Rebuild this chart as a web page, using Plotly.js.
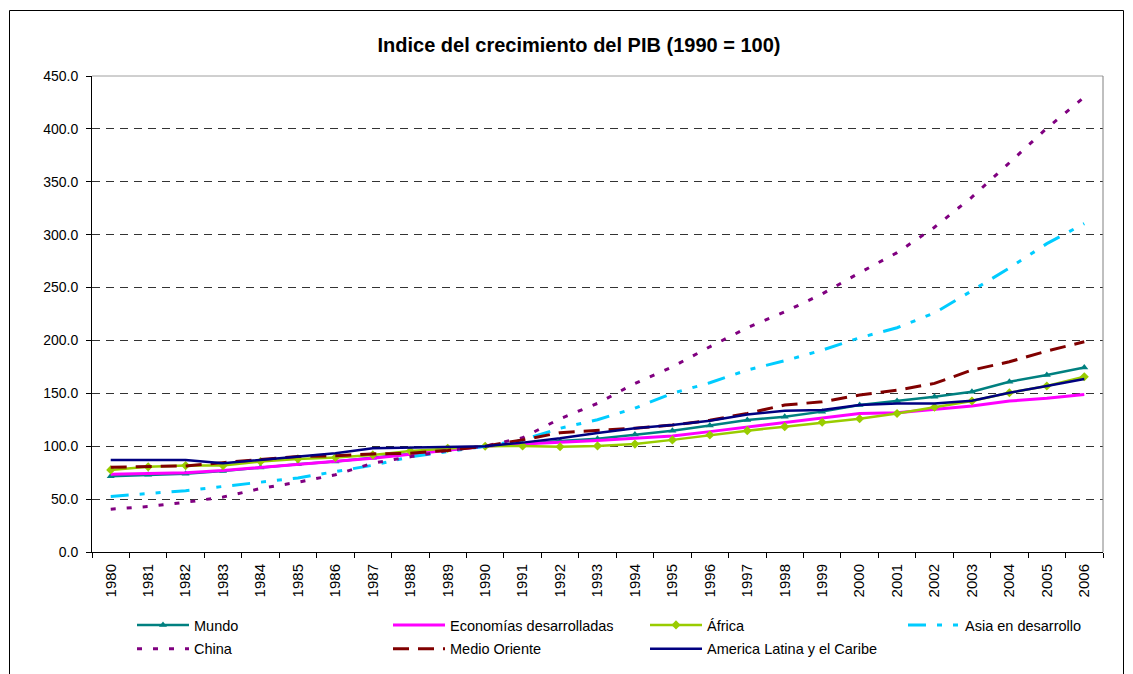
<!DOCTYPE html>
<html>
<head>
<meta charset="utf-8">
<script src="https://cdn.plot.ly/plotly-3.0.1.min.js"></script>
<style>
html,body{margin:0;padding:0;background:#fff;}
#chart{width:1133px;height:674px;}
</style>
</head>
<body>
<div id="chart"></div>
<script>
const years = ["1980","1981","1982","1983","1984","1985","1986","1987","1988","1989","1990","1991","1992","1993","1994","1995","1996","1997","1998","1999","2000","2001","2002","2003","2004","2005","2006"];

const mundo = [71.5,73,74,76.5,80,83,85.5,89,93,96.5,100,102,105,107,111,114.7,119.5,124.8,127.9,132.7,139,142.7,146.8,151.5,161,167.3,174.5];
const economiasDesarrolladas = [73.5,74.5,75,77,80,82.4,85.5,88.7,92.4,96.5,100,102,103.4,105.3,107.5,109.7,113.8,118,122.3,126.4,131,131.7,134.9,138,142.7,145.3,149];
const africa = [77.6,80.5,81.7,81.7,85.5,88,89.3,91.8,95.5,98,100,100.3,99.5,100.3,102,106,110.6,114.7,118.5,122.6,126,131,136.8,142.7,150.6,156.9,165.7];
const asiaDesarrollo = [52.5,55,58,62,66,70,76,82,90,95,100,106,117,125,136,150,160,172,180.8,190.8,202.5,212,226,247,268.5,291.5,310.5];
const china = [40.5,43,47,52,60,66,73,84,90,96,100,108,126,140.5,159.4,175,194,212,227,244,264,283,307,335.5,368,400.6,430];
const medioOriente = [80.2,80.5,81.4,84.5,87.7,90.2,91,92.7,93.4,96,100,106,112.8,114.7,117,120,124.5,131,139,142,148.4,153,159.4,172,179.8,190,198.7];
const americaLatina = [87,87,87,84,87,90,93.4,98,98.5,99.5,100,103.4,107.5,112.5,117,120,124,130,133.6,134.2,139,140.5,140.5,143,150.6,156.9,163.5];

const names = ["Mundo","Economías desarrolladas","África","Asia en desarrollo","China","Medio Oriente","America Latina y el Caribe"];

const traces = [
  {x: years, y: mundo, name: names[0], type: 'scatter', mode: 'lines+markers', legend: 'legend', legendgroup: 'g1',
   line: {color: '#008080', width: 2.5}, marker: {symbol: 'triangle-up', size: 7, color: '#008080'}},
  {x: years, y: economiasDesarrolladas, name: names[1], type: 'scatter', mode: 'lines', legend: 'legend2', legendgroup: 'g2',
   line: {color: '#FF00FF', width: 3}},
  {x: years, y: africa, name: names[2], type: 'scatter', mode: 'lines+markers', legend: 'legend3', legendgroup: 'g3',
   line: {color: '#99CC00', width: 2.5}, marker: {symbol: 'diamond', size: 7, color: '#99CC00'}},
  {x: years, y: asiaDesarrollo, name: names[3], type: 'scatter', mode: 'lines', legend: 'legend4', legendgroup: 'g4',
   line: {color: '#00CCFF', width: 3, dash: '18px,11px,5px,11px,5px,11px'}},
  {x: years, y: china, name: names[4], type: 'scatter', mode: 'lines', legend: 'legend', legendgroup: 'g5',
   line: {color: '#800080', width: 3, dash: '5px,11px'}},
  {x: years, y: medioOriente, name: names[5], type: 'scatter', mode: 'lines', legend: 'legend2', legendgroup: 'g6',
   line: {color: '#800000', width: 3, dash: '16px,9px'}},
  {x: years, y: americaLatina, name: names[6], type: 'scatter', mode: 'lines', legend: 'legend3', legendgroup: 'g7',
   line: {color: '#000080', width: 2.5}}
];

const L = 92, R = 1103, T = 76, B = 552;
const pw = R - L, ph = B - T;
function px(xp){ return (xp - L) / pw; }
function py(yp){ return (B - yp) / ph; }

const IW = 52;
const legendBase = {xanchor: 'left', yanchor: 'top', y: py(609), font: {size: 14.5},
                    bgcolor: 'rgba(0,0,0,0)', orientation: 'v', traceorder: 'grouped',
                    tracegroupgap: 2, itemwidth: IW};
const off = IW + 10;

const layout = {
  width: 1133, height: 674,
  margin: {l: L, r: 1133 - R, t: T, b: 674 - B, pad: 0, autoexpand: false},
  paper_bgcolor: '#ffffff', plot_bgcolor: '#ffffff',
  font: {family: '"Liberation Sans", Arial, sans-serif', size: 14, color: '#000'},
  title: {text: '<b>Indice del crecimiento del PIB (1990 = 100)</b>',
          font: {size: 20, color: '#000'}, x: px(579), xref: 'paper', xanchor: 'center',
          y: 1 - 45/674, yref: 'container', yanchor: 'middle'},
  showlegend: true,
  legend: Object.assign({}, legendBase, {x: px(194 - off)}),
  legend2: Object.assign({}, legendBase, {x: px(450 - off)}),
  legend3: Object.assign({}, legendBase, {x: px(707 - off)}),
  legend4: Object.assign({}, legendBase, {x: px(965 - off)}),
  xaxis: {type: 'category', range: [-0.5, 26.5], autorange: false, tickangle: -90,
          showline: true, linecolor: '#000', linewidth: 1,
          ticks: 'outside', ticklen: 5, tickcolor: '#000', tickson: 'boundaries', ticklabelstandoff: 5,
          showgrid: false, zeroline: false, tickfont: {size: 15}, automargin: false},
  yaxis: {range: [0, 450], autorange: false, dtick: 50, tickformat: '.1f', showline: true, linecolor: '#000', linewidth: 1,
          ticks: 'outside', ticklen: 5, tickcolor: '#000', ticklabelstandoff: 5, showgrid: true, gridcolor: '#333',
          griddash: '8px,6px', gridwidth: 1, zeroline: false, tickfont: {size: 14}, automargin: false},
  shapes: [
    {type: 'line', xref: 'paper', yref: 'paper', x0: 1, x1: 1, y0: 0, y1: 1,
     line: {color: '#808080', width: 1}},
    {type: 'line', xref: 'paper', yref: 'paper', x0: 0, x1: 1, y0: 1, y1: 1, layer: 'below',
     line: {color: '#a0a0a0', width: 1}},
    {type: 'rect', xref: 'paper', yref: 'paper', x0: px(9.5), x1: px(1123.5), y0: py(690), y1: py(10.5),
     line: {color: '#000', width: 1}, fillcolor: 'rgba(0,0,0,0)'}
  ]
};

Plotly.newPlot('chart', traces, layout, {displayModeBar: false, staticPlot: true});
</script>
</body>
</html>
